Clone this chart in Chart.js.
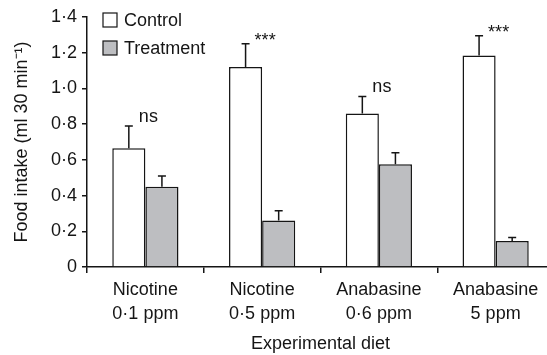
<!DOCTYPE html>
<html>
<head>
<meta charset="utf-8">
<script src="https://cdn.jsdelivr.net/npm/chart.js@4.4.1/dist/chart.umd.min.js"></script>
<style>
  html, body { margin: 0; padding: 0; background: #fff; overflow: hidden; }
  #wrap { width: 554px; height: 355px; }
</style>
</head>
<body>
<div id="wrap"><canvas id="chart" width="554" height="355"></canvas></div>
<script>
// ---- data ----
const categories = [
  ["Nicotine", "0·1 ppm"],
  ["Nicotine", "0·5 ppm"],
  ["Anabasine", "0·6 ppm"],
  ["Anabasine", "5 ppm"],
];
const controlMeans = [0.665, 1.12, 0.86, 1.185];
const controlErr   = [0.125, 0.13, 0.095, 0.11];
const treatMeans   = [0.45, 0.26, 0.575, 0.145];
const treatErr     = [0.06, 0.055, 0.065, 0.02];
const significance = ["ns", "***", "ns", "***"];
const yTickLabels  = ["0", "0·2", "0·4", "0·6", "0·8", "1·0", "1·2", "1·4"];

const FONT = "'Liberation Sans', Arial, Helvetica, sans-serif";
const INK = "#151515";
const GREY = "#bdbec1";

// error bars, significance marks and the boxed legend
const extras = {
  id: "extras",
  afterDatasetsDraw(chart) {
    const ctx = chart.ctx;
    const y = chart.scales.y;
    const errs = [controlErr, treatErr];
    ctx.save();
    ctx.strokeStyle = INK;
    ctx.lineWidth = 1.5;
    chart.data.datasets.forEach((ds, di) => {
      chart.getDatasetMeta(di).data.forEach((bar, i) => {
        const top = bar.y;
        const et = y.getPixelForValue(ds.data[i] + errs[di][i]);
        ctx.beginPath();
        ctx.moveTo(bar.x, top);
        ctx.lineTo(bar.x, et);
        ctx.moveTo(bar.x - 4, et);
        ctx.lineTo(bar.x + 4, et);
        ctx.stroke();
      });
    });

    // significance labels above the control bars
    ctx.fillStyle = INK;
    ctx.font = "18px " + FONT;
    ctx.textAlign = "center";
    const x = chart.scales.x;
    significance.forEach((s, i) => {
      const et = y.getPixelForValue(controlMeans[i] + controlErr[i]);
      const cx = x.getPixelForValue(i) + 3;
      if (s === "***") {
        ctx.textBaseline = "middle";
        ctx.fillText(s, cx, et - 3);
      } else {
        ctx.textBaseline = "alphabetic";
        ctx.fillText(s, cx, et - 4);
      }
    });

    // legend
    const items = chart.data.datasets.map((d) => [d.label, d.backgroundColor]);
    items.forEach(([label, fill], i) => {
      const cy = 20 + i * 28;
      ctx.fillStyle = fill;
      ctx.fillRect(103, cy - 7, 14, 14);
      ctx.lineWidth = 1.2;
      ctx.strokeRect(103, cy - 7, 14, 14);
      ctx.fillStyle = INK;
      ctx.textAlign = "left";
      ctx.textBaseline = "middle";
      ctx.fillText(label, 124, cy + 1);
    });
    ctx.restore();
  },
};

new Chart(document.getElementById("chart"), {
  type: "bar",
  data: {
    labels: categories,
    datasets: [
      {
        label: "Control",
        data: controlMeans,
        backgroundColor: "#ffffff",
        borderColor: INK,
        borderWidth: 1.5,
      },
      {
        label: "Treatment",
        data: treatMeans,
        backgroundColor: GREY,
        borderColor: INK,
        borderWidth: 1.5,
      },
    ],
  },
  options: {
    responsive: false,
    animation: false,
    layout: { padding: { top: 17, right: 0, left: 11, bottom: 0 } },
    datasets: { bar: { categoryPercentage: 0.567, barPercentage: 1.0 } },
    plugins: { legend: { display: false }, tooltip: { enabled: false } },
    scales: {
      x: {
        afterFit: (s) => { s.height = 88; },
        grid: {
          display: true,
          offset: true,
          drawOnChartArea: false,
          drawTicks: true,
          tickLength: 6,
          color: INK,
          lineWidth: 1.5,
        },
        border: { display: true, color: INK, width: 1.5 },
        ticks: {
          color: INK,
          font: { family: FONT, size: 18, lineHeight: 1.28 },
          padding: 6,
          maxRotation: 0,
        },
        title: {
          display: true,
          text: "Experimental diet",
          color: INK,
          font: { family: FONT, size: 18 },
          padding: { top: 7, bottom: 0 },
        },
      },
      y: {
        min: 0,
        max: 1.4,
        afterFit: (s) => { s.width = 76; },
        grid: {
          display: true,
          drawOnChartArea: false,
          drawTicks: true,
          tickLength: 5,
          color: INK,
          lineWidth: 1.5,
        },
        border: { display: true, color: INK, width: 1.5 },
        ticks: {
          stepSize: 0.2,
          color: INK,
          padding: 5,
          font: { family: FONT, size: 18 },
          callback: (v, i) => yTickLabels[i],
        },
        title: {
          display: true,
          text: "Food intake (ml 30 min⁻¹)",
          color: INK,
          font: { family: FONT, size: 18 },
          padding: { top: 0, bottom: 4 },
        },
      },
    },
  },
  plugins: [extras],
});
</script>
</body>
</html>
